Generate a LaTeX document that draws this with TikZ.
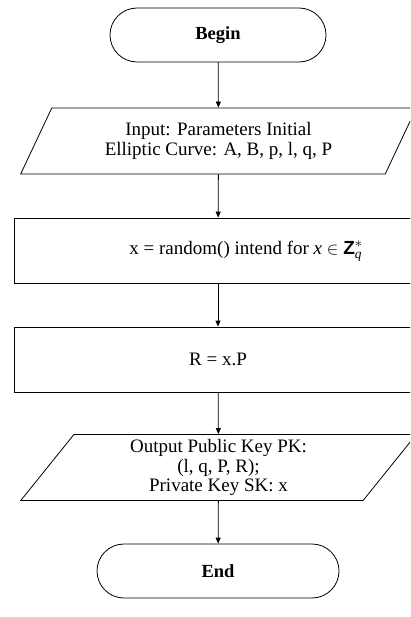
\documentclass[tikz,border=0pt]{standalone}
\usepackage{amsmath}
\usepackage{fontspec}
\setmainfont{Liberation Serif}
\setsansfont{Liberation Sans}
\usetikzlibrary{shapes.misc,shapes.geometric,arrows.meta}
\tikzset{
    boxfont/.style={font=\fontsize{19}{19.5}\selectfont},
    termbox/.style={draw, line width=0.8pt, rounded rectangle, minimum height=54pt, inner sep=0pt, font=\fontsize{18.5}{19}\selectfont\bfseries},
    iobox/.style={draw, line width=0.8pt, trapezium, trapezium left angle=60, trapezium right angle=120, trapezium stretches=true, minimum width=397pt, minimum height=66pt, inner sep=0pt, align=center, boxfont},
    procbox/.style={draw, line width=0.8pt, rectangle, minimum width=408pt, minimum height=65pt, inner sep=0pt},
    flow/.style={line width=0.8pt, -{Triangle[length=6pt,width=5pt]}}
}
\begin{document}
\begin{tikzpicture}[x=1pt, y=-1pt]
    \clip (0, 0) rectangle (410, 617);
    \fill[white] (0, 0) rectangle (410, 617);
    \node (begin) [termbox, minimum width=216pt] at (218, 35) {Begin};
    \node (input) [iobox] at (218.5, 141) {Input: Parameters Initial\\Elliptic Curve: A, B, p, l, q, P};
    \node (rand) [procbox] at (218, 250.5) {};
    \node (randtext) [boxfont] at (246, 251) {x = random() intend for $\textit{x}\in\textsf{\textbf{Z}}_{\textit{q}}^{*}$};
    \node (mult) [procbox, boxfont] at (218, 359.5) {R = x.P};
    \node (output) [iobox] at (218.5, 467.5) {Output Public Key PK:\\(l, q, P, R);\\Private Key SK: x};
    \node (end) [termbox, minimum width=242pt] at (218, 571) {End};
    \draw[flow] (begin) -- (input);
    \draw[flow] (input) -- (rand);
    \draw[flow] (rand) -- (mult);
    \draw[flow] (mult) -- (output);
    \draw[flow] (output) -- (end);
\end{tikzpicture}
\end{document}
